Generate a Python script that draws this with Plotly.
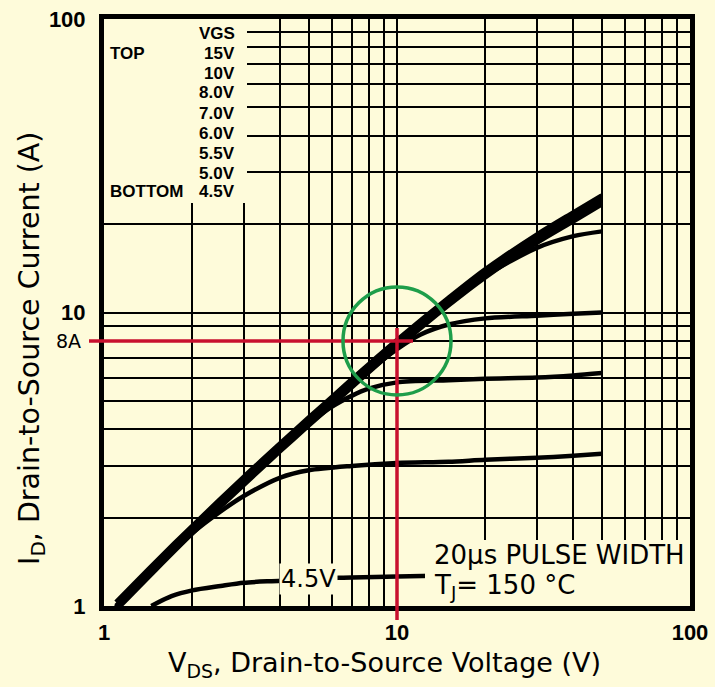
import numpy as np
import plotly.graph_objects as go

# ---------------- data ----------------
VGS_LABELS = ["15V", "10V", "8.0V", "7.0V", "6.0V", "5.5V", "5.0V", "4.5V"]

vds_15 = [1.1, 1.5, 2, 3, 4, 5, 6, 8, 10, 15, 20, 30, 40, 50]
id_15 = [1.03, 1.41, 1.87, 2.75, 3.58, 4.38, 5.15, 6.65, 8.05, 11.2, 14.0, 18.4, 21.9, 25.0]

vds_10 = [1.1, 1.5, 2, 3, 4, 5, 6, 8, 10, 15, 20, 30, 40, 50]
id_10 = [1.0, 1.37, 1.82, 2.67, 3.48, 4.25, 5.0, 6.46, 7.82, 10.9, 13.6, 17.8, 21.2, 24.2]

vds_8 = [1.1, 1.5, 2, 3, 4, 5, 6, 8, 10, 15, 20, 30, 40, 50]
id_8 = [0.97, 1.33, 1.77, 2.59, 3.38, 4.13, 4.85, 6.27, 7.59, 10.6, 13.2, 17.3, 20.5, 23.4]

vds_7 = [1.1, 1.5, 2, 3, 4, 5, 6, 8, 10, 15, 20, 30, 40, 50]
id_7 = [0.99, 1.35, 1.79, 2.63, 3.43, 4.19, 4.92, 6.36, 7.7, 10.7, 13.3, 16.6, 18.2, 18.9]

vds_6 = [1.1, 1.5, 2, 3, 4, 5, 6, 8, 10, 12, 15, 20, 30, 40, 50]
id_6 = [0.99, 1.35, 1.79, 2.63, 3.43, 4.19, 4.92, 6.3, 7.5, 8.4, 9.1, 9.55, 9.75, 9.9, 10.0]

vds_55 = [1.1, 1.5, 2, 3, 4, 5, 6, 7, 8, 10, 15, 20, 30, 40, 50]
id_55 = [0.99, 1.35, 1.79, 2.63, 3.43, 4.17, 4.78, 5.2, 5.5, 5.78, 5.88, 5.95, 6.0, 6.1, 6.22]

vds_5 = [1.1, 1.5, 2, 2.5, 3, 4, 5, 7, 10, 15, 20, 30, 40, 50]
id_5 = [0.99, 1.35, 1.77, 2.1, 2.37, 2.74, 2.9, 3.0, 3.07, 3.1, 3.15, 3.2, 3.25, 3.3]

vds_45 = [1.45, 1.7, 2, 2.5, 3, 4, 5, 7, 10, 15, 20, 30, 40, 50]
id_45 = [1.0, 1.08, 1.13, 1.17, 1.2, 1.22, 1.24, 1.25, 1.26, 1.27, 1.28, 1.29, 1.3, 1.3]

X_TICK_LABELS = {1: "1", 10: "10", 100: "100"}
Y_TICK_LABELS = {1: "1", 10: "10", 100: "100"}
GRID_VALUES = [1, 2, 3, 4, 5, 6, 7, 8, 9, 10, 20, 30, 40, 50, 60, 70, 80, 90, 100]

TARGET_VDS = 10
TARGET_ID = 8
LABEL_45_VDS = 5.0

# ---------------- styling ----------------
BG = "#FEFBDA"
RED = "#C8102E"
GREEN = "#1E9E4A"
SANS = "DejaVu Sans"
ARIAL = "Liberation Sans, Arial"

L, R, T, B = 104, 25, 19, 81
W, H = 715, 687
PW, PH = W - L - R, H - T - B
CIRCLE_R_PX = 54


def pxx(xp):
    return (xp - L) / PW


def pxy(yp):
    return (H - B - yp) / PH


fig = go.Figure()

series = [
    (vds_5, id_5, 4.5),
    (vds_45, id_45, 4.5),
    (vds_55, id_55, 4.5),
    (vds_6, id_6, 4.5),
    (vds_7, id_7, 4.5),
    (vds_8, id_8, 5.0),
    (vds_10, id_10, 5.0),
    (vds_15, id_15, 5.0),
]
for xs, ys, w in series:
    fig.add_trace(go.Scatter(x=xs, y=ys, mode="lines",
                             line=dict(color="black", width=w, shape="spline", smoothing=0.8),
                             hoverinfo="skip", showlegend=False))

fig.update_xaxes(type="log", range=[0, 2], tickmode="array", tickvals=GRID_VALUES,
                 ticktext=[X_TICK_LABELS.get(v, "") for v in GRID_VALUES],
                 showgrid=True, gridcolor="black", gridwidth=2, ticks="",
                 showline=True, linecolor="black", linewidth=5, mirror=True,
                 tickfont=dict(family=ARIAL, size=22, color="black", weight="bold"),
                 ticklabelstandoff=3, zeroline=False)
fig.update_yaxes(type="log", range=[0, 2], tickmode="array", tickvals=GRID_VALUES,
                 ticktext=[Y_TICK_LABELS.get(v, "") for v in GRID_VALUES],
                 showgrid=True, gridcolor="black", gridwidth=2, ticks="",
                 showline=True, linecolor="black", linewidth=5, mirror=True,
                 tickfont=dict(family=ARIAL, size=22, color="black", weight="bold"),
                 ticklabelstandoff=9, zeroline=False)

# circle bounding box in data units (log axes)
dec_x = CIRCLE_R_PX / (PW / 2.0)
dec_y = CIRCLE_R_PX / (PH / 2.0)

shapes = [
    dict(type="rect", xref="paper", yref="paper", x0=0, x1=pxx(247), y0=pxy(203), y1=1,
         fillcolor=BG, line=dict(width=0), layer="above"),
    dict(type="rect", xref="paper", yref="paper", x0=pxx(425), x1=1, y0=0, y1=pxy(540),
         fillcolor=BG, line=dict(width=0), layer="above"),
    dict(type="line", xref="paper", yref="y", x0=pxx(89), x1=pxx(413),
         y0=TARGET_ID, y1=TARGET_ID, line=dict(color=RED, width=3.5), layer="above"),
    dict(type="line", xref="x", yref="paper", x0=TARGET_VDS, x1=TARGET_VDS,
         y0=pxy(620), y1=pxy(328), line=dict(color=RED, width=3.5), layer="above"),
    dict(type="circle", xref="x", yref="y",
         x0=TARGET_VDS / 10 ** dec_x, x1=TARGET_VDS * 10 ** dec_x,
         y0=TARGET_ID / 10 ** dec_y, y1=TARGET_ID * 10 ** dec_y,
         line=dict(color=GREEN, width=3.5), layer="above"),
]

annotations = []
leg_font = dict(family=ARIAL, size=17, color="black", weight="bold")
leg_rows = [("VGS", 33)] + list(zip(VGS_LABELS, [53, 74, 93, 113, 133, 154, 173, 191]))
for txt, ypix in leg_rows:
    annotations.append(dict(xref="paper", yref="paper", x=pxx(237), y=pxy(ypix),
                            text=txt, showarrow=False, xanchor="right", yanchor="middle",
                            font=leg_font))
annotations.append(dict(xref="paper", yref="paper", x=pxx(108), y=pxy(53), text="TOP",
                        showarrow=False, xanchor="left", yanchor="middle", font=leg_font))
annotations.append(dict(xref="paper", yref="paper", x=pxx(108), y=pxy(191), text="BOTTOM",
                        showarrow=False, xanchor="left", yanchor="middle", font=leg_font))

lbl_y = float(np.interp(np.log10(LABEL_45_VDS), np.log10(vds_45), np.log10(id_45)))
annotations.append(dict(xref="x", yref="y", x=np.log10(LABEL_45_VDS), y=lbl_y,
                        text="4.5V", showarrow=False, bgcolor=BG, borderpad=1,
                        font=dict(family=SANS, size=24, color="black")))

annotations.append(dict(xref="paper", yref="paper", x=pxx(432), y=pxy(555),
                        text="20µs PULSE WIDTH", showarrow=False, xanchor="left",
                        yanchor="middle", font=dict(family=SANS, size=26, color="black")))
annotations.append(dict(xref="paper", yref="paper", x=pxx(432), y=pxy(586),
                        text="T<sub>J</sub>= 150 °C", showarrow=False, xanchor="left",
                        yanchor="middle", font=dict(family=SANS, size=26, color="black")))

annotations.append(dict(xref="paper", yref="y", x=pxx(83), y=np.log10(TARGET_ID),
                        text="8A", showarrow=False, xanchor="right", yanchor="middle",
                        font=dict(family=SANS, size=19, color="black")))

annotations.append(dict(xref="paper", yref="paper", x=pxx(384), y=pxy(664),
                        text="V<sub>DS</sub>, Drain-to-Source Voltage (V)", showarrow=False,
                        xanchor="center", yanchor="middle",
                        font=dict(family=SANS, size=27, color="black")))
annotations.append(dict(xref="paper", yref="paper", x=pxx(31), y=pxy(349),
                        text="I<sub>D</sub>, Drain-to-Source Current (A)", showarrow=False,
                        textangle=-90, xanchor="center", yanchor="middle",
                        font=dict(family=SANS, size=28.5, color="black")))

fig.update_layout(width=W, height=H, margin=dict(l=L, r=R, t=T, b=B, autoexpand=False),
                  paper_bgcolor=BG, plot_bgcolor=BG, shapes=shapes,
                  annotations=annotations, showlegend=False)

fig.write_html("out.html", config={"displayModeBar": False},
               post_script="document.body.style.margin='0';document.body.style.padding='0';"
                           "document.body.style.background='" + BG + "';")
